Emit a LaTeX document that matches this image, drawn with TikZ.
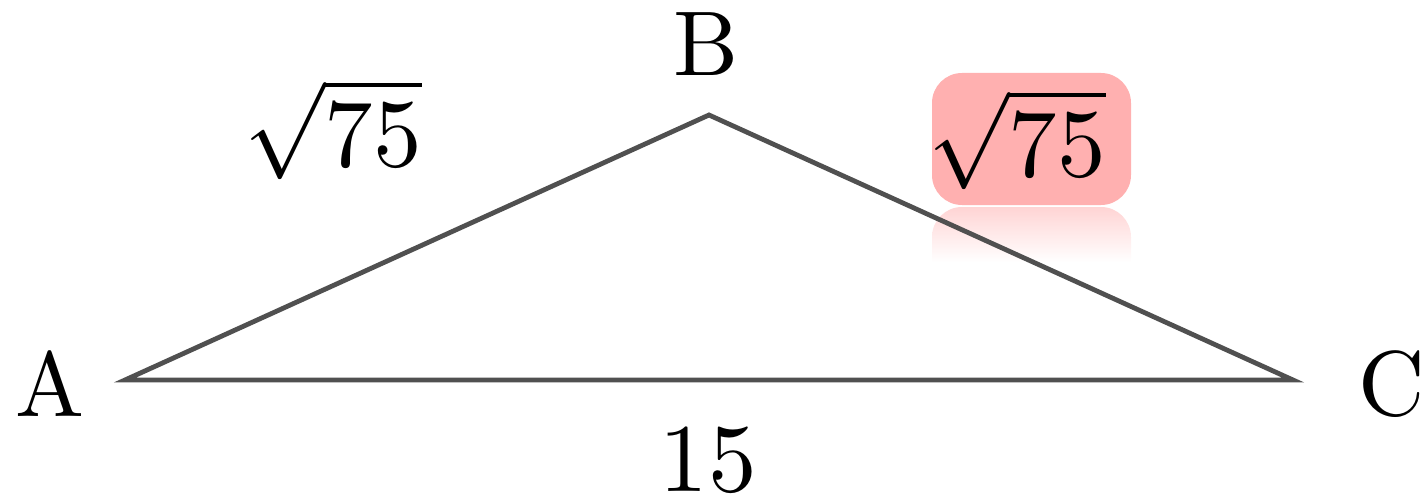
\documentclass[tikz,border=0pt]{standalone}
\definecolor{edgegray}{RGB}{80,80,80}
\definecolor{boxpink}{RGB}{255,176,176}
\definecolor{reflpink}{RGB}{255,212,212}
\tikzset{
  edge/.style={draw=edgegray, line width=4.8pt, line join=miter},
  lbl/.style={anchor=base, inner sep=0pt, font=\fontsize{10}{12}\selectfont, scale=9.2},
  mlbl/.style={lbl, scale=9.7/9.2},
}
\begin{document}
\begin{tikzpicture}[x=1pt, y=-1pt]
\useasboundingbox (0,0) rectangle (1425,500);
% reflection of the highlight box
\begin{scope}
  \clip[rounded corners=30pt] (932,207) rectangle (1131,339);
  \shade[top color=reflpink, bottom color=white] (932,207) rectangle (1131,262);
\end{scope}
% triangle
\coordinate (A) at (125,380);
\coordinate (B) at (709,115);
\coordinate (C) at (1293,380);
\draw[edge] (A) -- (B) -- (C) -- cycle;
% highlight box
\fill[boxpink, rounded corners=30pt] (932,73) rectangle (1131,205);
% labels
\node[lbl] (lA) at (50,416) {A};
\node[lbl] (lB) at (706,76) {B};
\node[lbl] (lC) at (1392,415) {C};
\node[mlbl] (l15) at (708,491) {$15$};
\node[mlbl] (lAB) at (333,167) {$\sqrt{75}$};
\node[mlbl] (lBC) at (1017,177) {$\sqrt{75}$};
\end{tikzpicture}
\end{document}
